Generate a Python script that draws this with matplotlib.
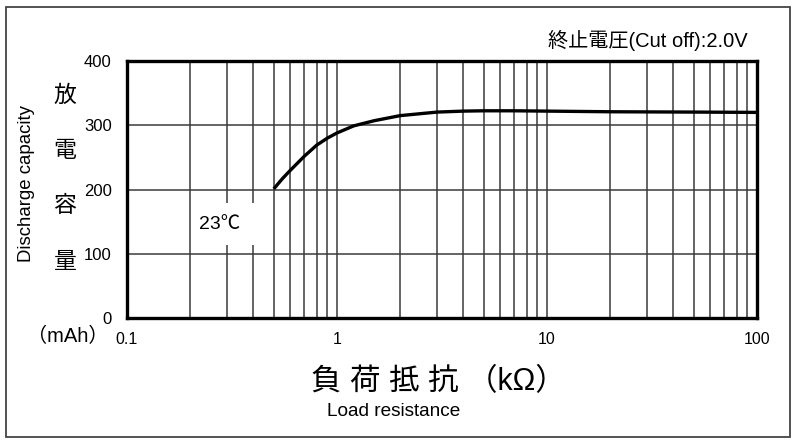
import numpy as np
import matplotlib.pyplot as plt
from matplotlib.patches import Rectangle
from matplotlib.ticker import FixedLocator, NullFormatter

plt.rcParams['font.family'] = ['Liberation Sans', 'Noto Sans CJK JP', 'DejaVu Sans']

# load resistance (kOhm) and discharge capacity (mAh)
resistance = [0.5, 0.55, 0.6, 0.7, 0.8, 0.9, 1.0, 1.2, 1.5, 2.0, 3.0, 4.0, 5.0, 7.0, 10, 20, 50, 100]
capacity = [201, 217, 230, 252, 269, 280, 288, 299, 307, 315, 320.5, 322, 322.5, 322.5, 322, 321, 320.5, 320]

x_ticks = [0.1, 1, 10, 100]
x_tick_labels = ['0.1', '1', '10', '100']
y_ticks = [0, 100, 200, 300, 400]

fig = plt.figure(figsize=(8.04, 4.45), dpi=100)
ax = fig.add_axes([127 / 804, 1 - 318 / 445, 630 / 804, 257 / 445])

ax.set_xscale('log')
ax.set_xlim(0.1, 100)
ax.set_ylim(0, 400)

# grid: every 1..9 per decade, and every 100 mAh
minor = [m * 10.0 ** d for d in (-1, 0, 1) for m in range(2, 10)]
ax.xaxis.set_major_locator(FixedLocator(x_ticks))
ax.xaxis.set_minor_locator(FixedLocator(minor))
ax.xaxis.set_minor_formatter(NullFormatter())
ax.set_xticklabels(x_tick_labels)
ax.set_yticks(y_ticks)
ax.grid(which='both', axis='x', color='#3a3a3a', linewidth=1.1)
ax.grid(which='major', axis='y', color='#3a3a3a', linewidth=1.1)
ax.set_axisbelow(True)
ax.tick_params(which='both', length=0, colors='black')
ax.tick_params(axis='x', pad=10, labelsize=11.5)
ax.tick_params(axis='y', pad=11, labelsize=12)

for s in ax.spines.values():
    s.set_linewidth(2.4)
    s.set_color('black')

ax.plot(resistance, capacity, color='black', linewidth=2.4, solid_capstyle='butt', zorder=5)

# white patch behind the temperature note
ax.add_patch(Rectangle((0.215, 114), 0.44 - 0.215, 65, facecolor='white',
                       edgecolor='none', zorder=1))
ax.text(0.277, 146, '23℃', fontsize=14, ha='center', va='center', zorder=4)

# labels
fig.text(748 / 804, 1 - 40 / 445, '終止電圧(Cut off):2.0V', fontsize=14.5, ha='right', va='center')
for i, ch in enumerate('放電容量'):
    fig.text(65 / 804, 1 - (95 + 55.5 * i) / 445, ch, fontsize=16.5, ha='center', va='center')
fig.text(27 / 804, 1 - 183 / 445, 'Discharge capacity', fontsize=13.4, rotation=90,
         ha='center', va='center')
fig.text(68 / 804, 1 - 336 / 445, '（mAh）', fontsize=14.5, ha='center', va='center')
fig.text(438 / 804, 1 - 382 / 445, '負 荷 抵 抗 （kΩ）', fontsize=22, ha='center', va='center')
fig.text(394 / 804, 1 - 412 / 445, 'Load resistance', fontsize=13.7, ha='center', va='center')

# outer frame
fig.patches.append(Rectangle((6 / 804, 1 - 437 / 445), 784 / 804, 430 / 445,
                             transform=fig.transFigure, fill=False,
                             edgecolor='#444444', linewidth=1.3))

fig.savefig('out.png', dpi=100)
